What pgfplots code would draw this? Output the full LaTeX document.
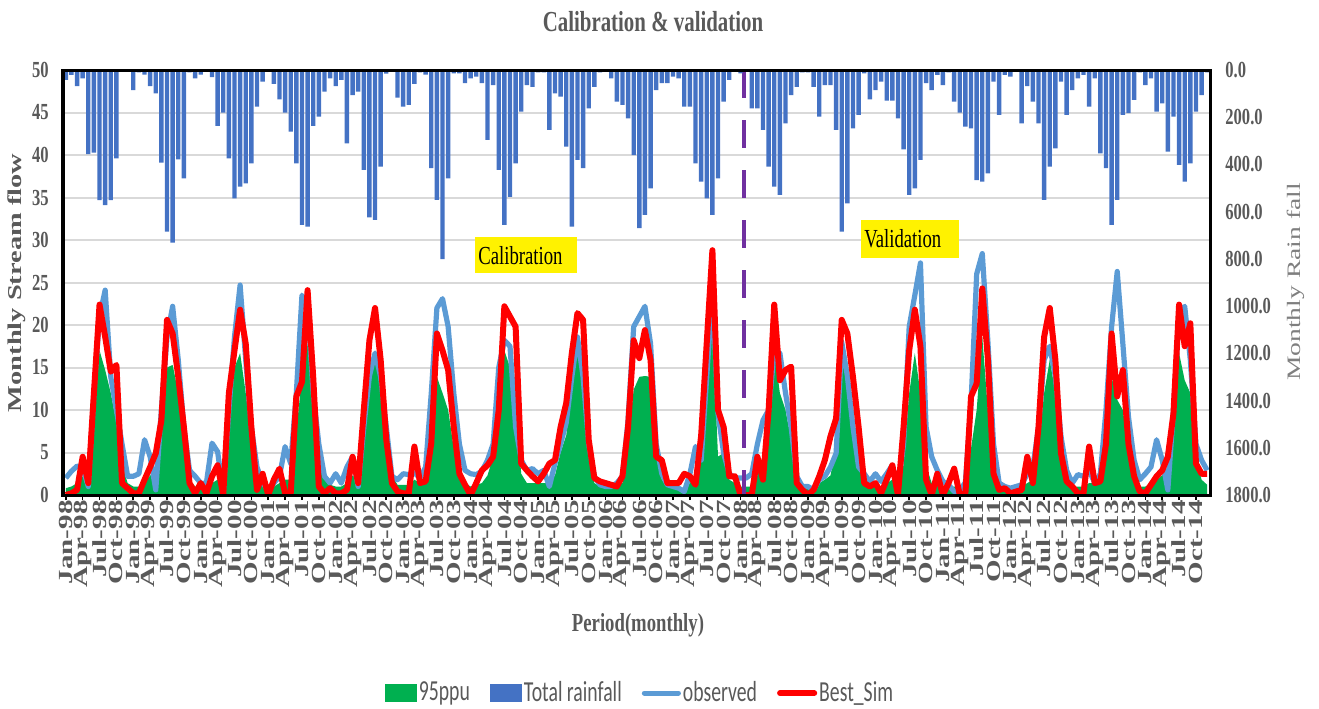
\documentclass[border=0pt]{standalone}
\usepackage{fontspec}
\usepackage{pgfplots}
\usepackage{pgfplotstable}
\pgfplotsset{compat=1.18}
\setmainfont{Liberation Serif}
\newfontfamily\hser[FakeStretch=0.72]{Liberation Serif}
\newfontfamily\vser[FakeStretch=1.45]{Liberation Serif}
\newfontfamily\legfont[FakeStretch=0.68]{Carlito}
\definecolor{txtgray}{HTML}{595959}
\definecolor{lbgray}{HTML}{7F7F7F}
\definecolor{ppugreen}{HTML}{00B050}
\definecolor{rainblue}{HTML}{4472C4}
\definecolor{obsblue}{HTML}{5B9BD5}
\definecolor{simred}{HTML}{FF0000}
\definecolor{vpurple}{HTML}{7030A0}
\definecolor{gridgray}{HTML}{D9D9D9}
\pgfplotsset{myarea/.style={legend image code/.code={\fill[##1] (0pt,-4.5pt) rectangle (16pt,4.5pt);}}}

\pgfplotstableread{
i rain obs sim ppu
0 42 2.0 0 0.8
1 21 2.8 0.2 1.0
2 68 3.4 0.6 1.4
3 35 3.2 4.5 2.2
4 356 1.0 1.4 1.8
5 350 12 12 9
6 551 21 22.4 17
7 572 24.1 18.6 14.7
8 551 13.9 14.5 12
9 374 10 15.3 8.5
10 8 6 1.4 3.5
11 5 2.2 0.8 1.4
12 85 2.2 0.2 1.0
13 10 2.5 0.2 1.0
14 20 6.5 1.8 1.4
15 68 4.5 3.3 2.3
16 99 0.6 4.9 2.5
17 392 10 8.8 8.5
18 685 18.6 20.6 15
19 731 22.2 19 15.3
20 378 15.9 13.9 12
21 459 8 8 6.5
22 10 2.9 1.4 1.8
23 35 2.2 0.2 1.0
24 20 1.4 1.4 1.0
25 8 1.4 0.2 1.0
26 30 6.1 2.2 1.4
27 237 5.1 3.5 1.8
28 181 0.2 0 1.8
29 374 10 12 10
30 544 18.6 17 15
31 494 24.7 21.8 16.7
32 480 15.9 17.8 12
33 395 8 8 6.5
34 155 3.3 0.6 1.8
35 49 1.4 2.5 1.0
36 5 0.6 0 0.8
37 59 1.4 1.8 1.0
38 124 2.2 3.1 1.4
39 181 5.7 0.2 1.8
40 261 3.7 0.2 1.8
41 395 12 11.6 7.5
42 656 23.5 13.3 13.9
43 663 22.2 24.1 17.8
44 237 12 13.9 10
45 197 6 1 4.5
46 92 2.2 0.2 1.8
47 35 1.4 0.8 1.2
48 68 2.5 0.2 1.0
49 42 1.4 0.2 1.0
50 311 3.3 0.6 1.4
51 106 4.5 4.5 2.3
52 92 1.0 1.4 1.8
53 423 8 10 6.5
54 624 14 18.2 12.7
55 635 16.7 22 16.7
56 409 13.9 15.9 12
57 15 8 6.5 6
58 8 2.2 1.4 2.3
59 117 1.8 0.4 1.2
60 155 2.5 0.2 1.2
61 148 2.4 0.2 1.2
62 59 2.6 5.7 1.8
63 10 2.0 1.4 1.4
64 20 3.3 1.6 1.8
65 416 12 6.1 8.5
66 550 22 19 13.9
67 801 23.1 17 12
68 459 19.8 14.7 10
69 14 12 8 5.5
70 14 6 2.5 2.3
71 56 2.9 1.2 1.4
72 35 2.5 0 1.0
73 28 2.4 1.4 1.2
74 56 2.8 2.9 1.4
75 296 4.1 3.5 2.3
76 64 6 4.5 4.5
77 423 15 10 12
78 656 18.2 22.2 17
79 537 17.5 21 15
80 395 8 19.8 10
81 176 4.1 3.7 2.5
82 64 2.9 2.9 1.4
83 71 3.1 2.2 1.4
84 10 2.5 1.6 1.4
85 10 2.9 2.5 1.4
86 254 1.0 3.7 1.4
87 99 3.7 4.1 2.3
88 113 6 8 5
89 325 8.5 10.8 7
90 663 13.9 16.7 12
91 381 18.6 21.4 17
92 416 13.9 20.6 12
93 162 6 6.5 4.5
94 71 2.2 2 1.4
95 10 1.2 1.6 1.0
96 8 1.0 1.4 1.0
97 35 1.0 1.2 1.0
98 134 1.4 1.0 1.0
99 148 2.2 2.2 1.4
100 205 8.8 8 6.5
101 360 19.8 18.2 12.4
102 670 21 16.1 13.9
103 614 22.2 19.4 14
104 501 17.8 15.9 13.9
105 85 6 4.5 4.5
106 56 2.5 4.1 1.8
107 56 1.2 1.4 1.0
108 28 1.0 1.4 1.0
109 35 0.8 1.4 0.8
110 155 0.4 2.5 0.8
111 155 2.5 2.2 1.4
112 395 5.7 1.2 2.3
113 473 4.1 7 4.5
114 544 14 18 12
115 614 24 28.8 20
116 459 9.6 10 4.5
117 134 4.9 8 5
118 42 2.5 2.2 1.8
119 8 2.0 2.2 1.4
120 14 2.0 0 1.0
121 8 2.0 0 1.0
122 162 2.5 0 1.0
123 162 6 4.5 2.3
124 254 8.8 1.8 4.5
125 409 10 10 10
126 494 17 22.4 17
127 529 16.7 13.5 12
128 226 12 14.7 10
129 106 8 15.1 6.5
130 71 2.2 1.4 1.8
131 10 1.0 0.6 1.0
132 10 1.0 0 0.8
133 71 0.6 0.6 0.8
134 197 1.8 2.2 1.4
135 64 2.2 4.1 1.8
136 64 3.3 6.9 2.3
137 254 4.9 9 5.5
138 685 18 20.6 15
139 565 14 19 15
140 247 8 13.9 8.5
141 190 3.3 8 3.5
142 14 2.5 1.4 1.4
143 124 1.6 1.0 1.2
144 85 2.5 1.4 1.2
145 49 1.6 0.2 1.0
146 130 2.5 1.8 1.4
147 130 3.5 3.5 1.8
148 205 1.0 0 1.8
149 336 6 8 3.5
150 529 19.8 17 12
151 501 23.5 21.8 16.7
152 381 27.3 17.5 12
153 56 8 1.8 3.5
154 85 4.5 0 1.4
155 21 2.9 2.5 1.2
156 64 1.6 0 1.0
157 10 1.2 1.4 1.0
158 134 0.4 3.1 1.0
159 181 0.5 0 0.8
160 240 1.5 0.2 1.0
161 247 10.8 11.6 5.5
162 466 26 13.1 10
163 473 28.4 24.3 18.6
164 438 18 15.9 10
165 49 6 2.5 2.3
166 190 1.4 0.6 1.0
167 21 1.0 0.8 1.0
168 28 0.8 0.2 0.8
169 8 1.0 0.4 0.8
170 226 1.2 0.6 1.0
171 68 2.5 4.5 1.4
172 134 3.3 1.4 1.8
173 226 8 8 5.5
174 550 15.9 18.6 12
175 409 17.5 22 15.9
176 332 13.9 15.9 12
177 49 6.9 4.9 6
178 190 2.9 1.6 1.8
179 85 1.4 1.0 1.0
180 35 2.4 0.2 1.0
181 21 2.2 0.2 1.0
182 155 2.9 5.7 1.4
183 35 1.4 1.4 1.4
184 353 2.5 1.6 1.8
185 416 10 6 5.5
186 656 19.8 19 13.9
187 550 26.3 11.6 11.2
188 190 17.8 14.7 10
189 183 9.2 6 5.5
190 127 4.1 2.2 2.3
191 10 1.8 0.4 1.0
192 64 2.5 0.2 1.0
193 35 3.3 1.2 1.4
194 176 6.5 2.2 1.8
195 141 4.1 2.9 2.3
196 346 0.6 4.5 2.8
197 197 10 9.6 6.5
198 402 21.4 22.4 16.7
199 473 22.2 17.5 13.5
200 395 15.9 20.2 12
201 176 6 3.7 4.5
202 106 4.1 2.5 1.8
203 10 2.9 2.5 1.2
}\data

\begin{document}
\begin{tikzpicture}[x=1pt,y=1pt]
\useasboundingbox (0,0) rectangle (659.5,354);
% ---------- stream flow axis ----------
\begin{axis}[
  at={(31.5pt,106.5pt)}, anchor=south west,
  scale only axis, width=573.5pt, height=212.5pt,
  xmin=-0.5, xmax=203.5, ymin=0, ymax=50,
  axis line style={black, line width=1.5pt},
  ymajorgrids, grid style={gridgray, line width=1pt},
  ytick={0,5,...,50}, yticklabels={0,5,10,15,20,25,30,35,40,45,50},
  ytick pos=left, ytick style={draw=none},
  yticklabel style={font=\hser\bfseries\fontsize{11.5}{12}\selectfont, text=txtgray, inner sep=0pt, xshift=-7pt},
  xtick={0,3,...,201},
  xticklabels={Jan-98,Apr-98,Jul-98,Oct-98,Jan-99,Apr-99,Jul-99,Oct-99,Jan-00,Apr-00,Jul-00,Oct-00,Jan-01,Apr-01,Jul-01,Oct-01,Jan-02,Apr-02,Jul-02,Oct-02,Jan-03,Apr-03,Jul-03,Oct-03,Jan-04,Apr-04,Jul-04,Oct-04,Jan-05,Apr-05,Jul-05,Oct-05,Jan-06,Apr-06,Jul-06,Oct-06,Jan-07,Apr-07,Jul-07,Oct-07,Jan-08,Apr-08,Jul-08,Oct-08,Jan-09,Apr-09,Jul-09,Oct-09,Jan-10,Apr-10,Jul-10,Oct-10,Jan-11,Apr-11,Jul-11,Oct-11,Jan-12,Apr-12,Jul-12,Oct-12,Jan-13,Apr-13,Jul-13,Oct-13,Jan-14,Apr-14,Jul-14,Oct-14},
  xtick pos=bottom, xtick align=outside, major tick length=2.5pt,
  xtick style={black, line width=0.8pt},
  xticklabel style={rotate=90, anchor=east, inner sep=0pt, font=\vser\bfseries\fontsize{10}{10}\selectfont, text=txtgray},
  clip=true,
]
\addplot[fill=ppugreen, draw=none] table[x=i,y=ppu]{\data} \closedcycle;
\addplot[obsblue, line width=2.6pt, line join=round] table[x=i,y=obs]{\data};
\addplot[simred, line width=3pt, line join=round] table[x=i,y=sim]{\data};
\addplot[vpurple, line width=2pt, dash pattern=on 14pt off 11pt] coordinates {(120.6,50) (120.6,0)};
\node[fill=yellow, text=black, font=\hser\fontsize{13}{13}\selectfont, minimum height=18pt, text width=48pt, inner xsep=1.5pt, align=left] at (axis cs:81.9,28.2) {Calibration};
\node[fill=yellow, text=black, font=\hser\fontsize{13}{13}\selectfont, minimum height=19pt, text width=46pt, inner xsep=1.5pt, align=left] at (axis cs:150.2,30.1) {Validation};
\end{axis}
% ---------- rainfall axis ----------
\begin{axis}[
  at={(31.5pt,106.5pt)}, anchor=south west,
  scale only axis, width=573.5pt, height=212.5pt,
  xmin=-0.5, xmax=203.5, ymin=0, ymax=1800, y dir=reverse,
  axis on top,
  axis line style={black, line width=1.5pt},
  xtick=\empty,
  ytick={0,200,...,1800},
  yticklabels={0.0,200.0,400.0,600.0,800.0,1000.0,1200.0,1400.0,1600.0,1800.0},
  ytick pos=right, yticklabel pos=right, ytick style={draw=none},
  yticklabel style={font=\hser\bfseries\fontsize{11.5}{12}\selectfont, text=txtgray, inner sep=0pt, xshift=7.5pt},
  legend columns=4,
  legend style={draw=none, fill=none, at={(0.503,-0.466)}, anchor=center,
    font=\legfont\fontsize{14.5}{15}\selectfont, text=txtgray,
    /tikz/every even column/.append style={column sep=9pt},
    nodes={inner xsep=1pt}},
]
\addlegendimage{myarea, fill=ppugreen, draw=none}
\addlegendentry{95ppu}
\addplot[ybar, bar width=0.78, fill=rainblue, draw=none, myarea] table[x=i,y=rain]{\data};
\addlegendentry{Total rainfall}
\addlegendimage{line legend, obsblue, line width=2.5pt, line cap=round}
\addlegendentry{observed}
\addlegendimage{line legend, simred, line width=3pt, line cap=round}
\addlegendentry{Best\_Sim}
\end{axis}
% ---------- titles ----------
\node[font=\hser\bfseries\fontsize{14.5}{15}\selectfont, text=txtgray] at (326.5,343) {Calibration \& validation};
\node[rotate=90, font=\vser\bfseries\fontsize{9.8}{10}\selectfont, text=txtgray] at (8.5,212.5) {Monthly Stream flow};
\node[rotate=90, font=\vser\fontsize{9.5}{10}\selectfont, text=lbgray] at (648,213) {Monthly Rain fall};
\node[font=\hser\bfseries\fontsize{13}{13}\selectfont, text=txtgray] at (319,41.5) {Period(monthly)};
\end{tikzpicture}
\end{document}
